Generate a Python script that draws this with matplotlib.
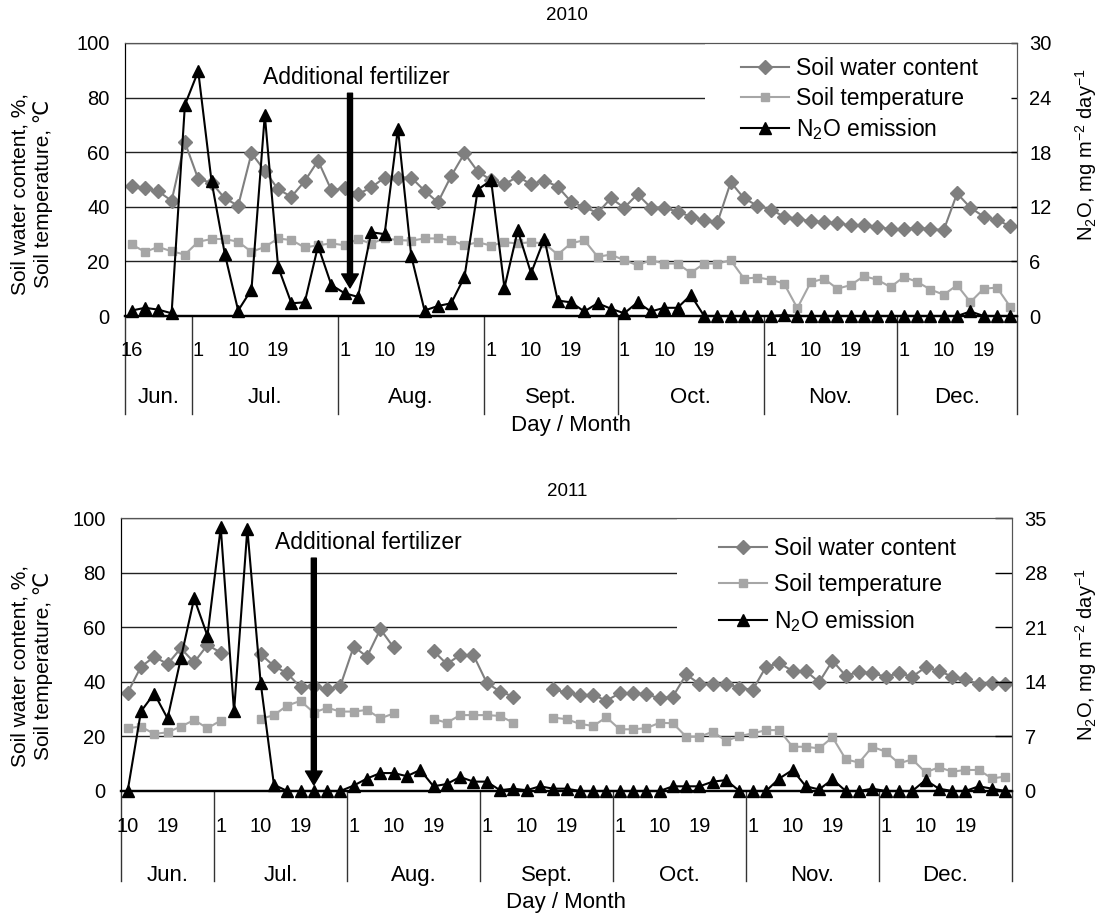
import numpy as np
import matplotlib.pyplot as plt
from matplotlib.patches import Rectangle
from matplotlib.transforms import blended_transform_factory

plt.rcParams['font.family'] = ['Liberation Sans', 'DejaVu Sans']
plt.rcParams['mathtext.fontset'] = 'custom'
plt.rcParams['mathtext.rm'] = 'Liberation Sans'
plt.rcParams['mathtext.default'] = 'rm'

months = ['Jun.', 'Jul.', 'Aug.', 'Sept.', 'Oct.', 'Nov.', 'Dec.']
nan = np.nan

# ---- 2010 ----
swc_2010 = [47.7, 46.8, 45.7, 42.2, 63.6, 50.2, 48.8, 43.1, 40.4, 59.6, 53.2, 46.4,
            43.7, 49.4, 56.9, 46.1, 46.8, 44.6, 47.1, 50.7, 50.7, 50.7, 45.9, 41.6,
            51.3, 59.6, 52.9, 49.8, 48.3, 51.0, 48.3, 49.6, 47.4, 41.9, 39.8, 37.8,
            43.1, 39.7, 44.6, 39.7, 39.7, 38.2, 36.4, 35.1, 34.3, 49.0, 43.1, 40.4,
            39.0, 36.4, 35.7, 34.7, 34.5, 33.9, 33.3, 33.3, 32.7, 31.8, 31.8, 32.4,
            31.8, 31.5, 44.9, 39.7, 36.4, 35.1, 32.9]
temp_2010 = [26.2, 23.5, 25.3, 23.7, 22.5, 27.2, 28.2, 28.2, 27.2, 23.5, 25.3, 28.4,
             27.8, 25.1, 25.9, 26.6, 25.9, 28.2, 26.5, 28.5, 27.8, 27.6, 28.4, 28.4,
             27.8, 25.9, 27.0, 25.8, 27.0, 26.6, 27.0, 26.6, 22.5, 26.6, 27.8, 21.7,
             22.5, 20.4, 18.6, 20.4, 19.2, 19.2, 15.8, 19.2, 19.2, 20.4, 13.7, 14.1,
             13.3, 11.9, 2.9, 12.3, 13.7, 10.0, 11.3, 14.6, 13.3, 10.6, 14.3, 12.5,
             9.7, 7.8, 11.3, 5.1, 10.0, 10.4, 3.3]
n2o_2010 = [0.6, 0.9, 0.7, 0.3, 23.2, 26.9, 14.8, 6.8, 0.6, 2.9, 22.1, 5.4,
            1.4, 1.5, 7.7, 3.4, 2.5, 2.1, 9.2, 9.0, 20.6, 6.6, 0.6, 1.1,
            1.4, 4.3, 13.9, 14.9, 3.1, 9.4, 4.7, 8.5, 1.7, 1.5, 0.5, 1.4,
            0.8, 0.3, 1.5, 0.5, 0.9, 0.9, 2.3, 0, 0, 0, 0, 0,
            0, 0.1, 0, 0, 0, 0, 0, 0, 0, 0, 0, 0,
            0, 0, 0, 0.5, 0, 0, 0]
month_n_2010 = [5, 11, 11, 10, 11, 10, 9]
day_pos_2010 = [0, 5, 8, 11, 16, 19, 22, 27, 30, 33, 37, 40, 43, 48, 51, 54, 58, 61, 64]
day_lbl_2010 = ['16', '1', '10', '19', '1', '10', '19', '1', '10', '19',
                '1', '10', '19', '1', '10', '19', '1', '10', '19']

# ---- 2011 ----
swc_2011 = [36.0, 45.5, 49.2, 46.5, 52.3, 47.1, 53.5, 50.7, nan, nan, 50.1, 45.8,
            43.1, 38.0, 38.5, 37.2, 38.6, 52.9, 49.2, 59.3, 52.6, nan, nan, 51.3,
            46.5, 49.8, 49.8, 39.7, 36.4, 34.6, nan, nan, 37.2, 36.1, 35.2, 35.2,
            33.1, 35.8, 35.8, 35.5, 33.9, 34.6, 42.7, 39.2, 39.2, 39.2, 37.9, 37.0,
            45.5, 46.8, 44.0, 43.9, 39.9, 47.7, 42.2, 43.7, 43.1, 41.9, 43.1, 41.9,
            45.3, 44.0, 41.9, 41.0, 39.1, 39.7, 39.1]
temp_2011 = [23.0, 23.6, 20.9, 21.5, 23.6, 26.0, 23.0, 25.8, nan, nan, 26.4, 27.8,
             31.3, 33.0, 28.7, 30.5, 29.1, 29.1, 29.7, 26.6, 28.4, nan, nan, 26.4,
             25.0, 27.8, 27.8, 27.8, 27.5, 25.0, nan, nan, 26.9, 26.3, 24.6, 23.8,
             27.0, 22.6, 22.6, 23.0, 25.0, 24.8, 19.9, 19.9, 21.7, 18.4, 20.1, 21.1,
             22.3, 22.3, 16.2, 16.2, 15.6, 19.7, 11.6, 10.4, 16.2, 14.4, 10.1, 11.6,
             6.8, 8.7, 7.1, 7.7, 7.7, 4.6, 5.3]
n2o_2011 = [0, 10.2, 12.5, 9.3, 17.0, 24.7, 19.9, 33.8, 10.2, 33.6, 13.9, 0.8,
            0, 0, 0, 0, 0, 0.7, 1.6, 2.3, 2.3, 1.9, 2.7, 0.6,
            0.9, 1.8, 1.2, 1.2, 0.1, 0.3, 0.1, 0.6, 0.3, 0.3, 0, 0,
            0, 0, 0, 0, 0, 0.6, 0.6, 0.6, 1.2, 1.4, 0, 0,
            0, 1.6, 2.7, 0.6, 0.2, 1.5, 0, 0, 0.3, 0, 0, 0,
            1.4, 0.3, 0, 0, 0.6, 0.3, 0]
month_n_2011 = [7, 10, 10, 10, 10, 10, 10]
day_pos_2011 = [0, 3, 7, 10, 13, 17, 20, 23, 27, 30, 33, 37, 40, 43, 47, 50, 53, 57, 60, 63]
day_lbl_2011 = ['10', '19', '1', '10', '19', '1', '10', '19', '1', '10', '19',
                '1', '10', '19', '1', '10', '19', '1', '10', '19']

W, H = 1108, 915
fig = plt.figure(figsize=(W / 100, H / 100), dpi=100)


def panel(px, swc, temp, n2o, n2o_max, month_n, day_pos, day_lbl,
          fert, text_xy, leg_box, leg_anchor, leg_space, tick_len, sep_low, lab_rows):
    l, t, r, b = px
    ax = fig.add_axes([l / W, 1 - b / H, (r - l) / W, (b - t) / H])
    ax2 = ax.twinx()
    x = np.arange(len(swc))
    ax.set_xlim(-0.5, len(swc) - 0.5)
    ax.set_ylim(0, 100)
    ax2.set_ylim(0, n2o_max)
    ax.set_yticks(range(0, 101, 20))
    ax2.set_yticks(np.linspace(0, n2o_max, 6))
    ax2.set_yticklabels(['%d' % v for v in np.linspace(0, n2o_max, 6)])
    ax.set_xticks([])
    ax.grid(axis='y', color='#222222', lw=1.0)
    ax.set_axisbelow(True)
    ax.tick_params(axis='y', length=0, labelsize=14.5, pad=11)
    ax2.tick_params(axis='y', direction='in', length=tick_len, width=1,
                    labelsize=14.5, pad=9)
    for a in (ax, ax2):
        for s in a.spines.values():
            s.set_color('#555555')
        a.spines['bottom'].set_color('black')
        a.spines['bottom'].set_linewidth(1.6)
        a.spines['left'].set_color('black')

    # white area behind legend
    ax.add_patch(Rectangle((leg_box[0], leg_box[1]), 1 - leg_box[0], 1 - leg_box[1],
                           transform=ax.transAxes, facecolor='white',
                           edgecolor='none', zorder=1))

    h1, = ax.plot(x, swc, color='#7f7f7f', marker='D', ms=7, lw=1.5,
                  clip_on=False, zorder=3)
    h2, = ax.plot(x, temp, color='#a6a6a6', marker='s', ms=5.5, lw=1.5,
                  clip_on=False, zorder=2.5)
    h3, = ax2.plot(x, n2o, color='black', marker='^', ms=8.5, lw=1.5,
                   clip_on=False, zorder=3)

    ax2.legend([h1, h2, h3], ['Soil water content', 'Soil temperature',
                              'N$_2$O emission'],
               loc='upper left', bbox_to_anchor=leg_anchor, frameon=False,
               fontsize=16.5, handlelength=2.1, handletextpad=0.3,
               labelspacing=leg_space, borderpad=0, borderaxespad=0)

    # fertilizer arrow and note
    ax.annotate('', xy=(fert[0], fert[2]), xytext=(fert[0], fert[1]),
                arrowprops=dict(width=3.6, headwidth=12, headlength=10,
                                color='black', shrink=0), zorder=4)
    ax.text(text_xy[0], text_xy[1], 'Additional fertilizer', ha='center',
            va='center', fontsize=16.5, zorder=4)

    # category axis: days, months, separators
    tr = blended_transform_factory(ax.transData, ax.transAxes)
    for p, s in zip(day_pos, day_lbl):
        ax.text(p, lab_rows[0], s, transform=tr, ha='center', va='center',
                fontsize=14.5)
    edges = np.concatenate([[0], np.cumsum(month_n)]) - 0.5
    for e in edges:
        ax.plot([e, e], [0, sep_low], transform=tr, color='#333333', lw=1,
                clip_on=False)
    for m, a0, a1 in zip(months, edges[:-1], edges[1:]):
        ax.text((a0 + a1) / 2, lab_rows[1], m, transform=tr, ha='center',
                va='center', fontsize=16)
    ax.text(0.5, lab_rows[2], 'Day / Month', transform=ax.transAxes,
            ha='center', va='center', fontsize=16)
    return ax, ax2


panel((125, 43, 1017, 316), swc_2010, temp_2010, n2o_2010, 30,
      month_n_2010, day_pos_2010, day_lbl_2010,
      (16.4, 81.6, 10.3), (16.9, 87.5), (0.65, 0.65), (0.691, 0.95), 0.3,
      4, -0.36, (-0.125, -0.30, -0.40))
panel((121, 518, 1012, 791), swc_2011, temp_2011, n2o_2011, 35,
      month_n_2011, day_pos_2011, day_lbl_2011,
      (14.0, 85.3, 2.2), (18.1, 91.2), (0.624, 0.52), (0.671, 0.93), 0.55,
      12, -0.33, (-0.131, -0.308, -0.41))

ylab = 'Soil water content, %,\nSoil temperature, \u2103'
rlab = 'N$_2$O, mg m$^{-2}$ day$^{-1}$'
fig.text(32 / W, 1 - 194 / H, ylab, rotation=90, ha='center', va='center',
         fontsize=15, linespacing=1.2)
fig.text(32 / W, 1 - 666 / H, ylab, rotation=90, ha='center', va='center',
         fontsize=15, linespacing=1.2)
fig.text(1086 / W, 1 - 155 / H, rlab, rotation=90, ha='center', va='center',
         fontsize=14.5)
fig.text(1086 / W, 1 - 655 / H, rlab, rotation=90, ha='center', va='center',
         fontsize=14.5)
fig.text(567 / W, 1 - 15 / H, '2010', ha='center', va='center', fontsize=13.5)
fig.text(567 / W, 1 - 492 / H, '2011', ha='center', va='center', fontsize=13.5)

fig.savefig('out.png', dpi=100)
